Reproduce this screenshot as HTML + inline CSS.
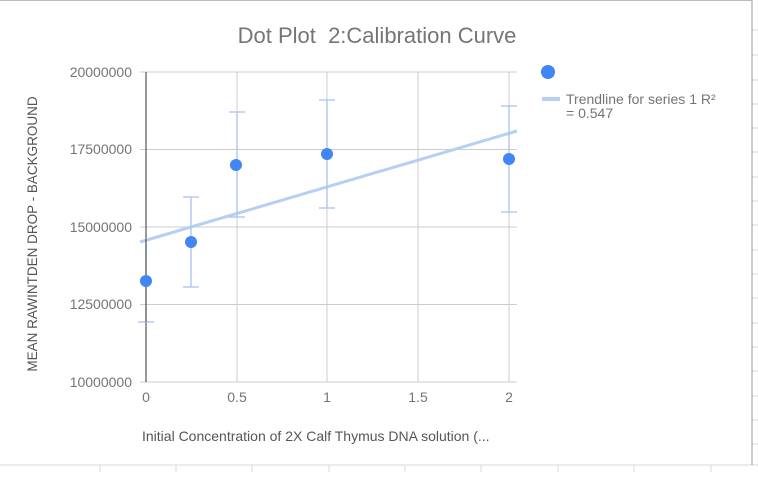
<!DOCTYPE html><html><head><style>body{margin:0;width:758px;height:472px;overflow:hidden;background:#fff;font-family:"Liberation Sans",sans-serif}</style></head><body>
<svg width="758" height="472" xmlns="http://www.w3.org/2000/svg" font-family="Liberation Sans, sans-serif">
<rect width="758" height="472" fill="#fff"/>
<g stroke="#d8d8d8" stroke-width="1">
<line x1="0" y1="465" x2="758" y2="465"/>
<line x1="100" y1="465" x2="100" y2="472"/><line x1="176" y1="465" x2="176" y2="472"/><line x1="252" y1="465" x2="252" y2="472"/><line x1="329" y1="465" x2="329" y2="472"/><line x1="405" y1="465" x2="405" y2="472"/><line x1="481" y1="465" x2="481" y2="472"/><line x1="558" y1="465" x2="558" y2="472"/><line x1="634" y1="465" x2="634" y2="472"/><line x1="711" y1="465" x2="711" y2="472"/>
<line x1="752" y1="30" x2="758" y2="30"/><line x1="752" y1="55" x2="758" y2="55"/><line x1="752" y1="80" x2="758" y2="80"/><line x1="752" y1="104" x2="758" y2="104"/><line x1="752" y1="128" x2="758" y2="128"/><line x1="752" y1="152" x2="758" y2="152"/><line x1="752" y1="177" x2="758" y2="177"/><line x1="752" y1="201" x2="758" y2="201"/><line x1="752" y1="225" x2="758" y2="225"/><line x1="752" y1="250" x2="758" y2="250"/><line x1="752" y1="274" x2="758" y2="274"/><line x1="752" y1="298" x2="758" y2="298"/><line x1="752" y1="323" x2="758" y2="323"/><line x1="752" y1="347" x2="758" y2="347"/><line x1="752" y1="371" x2="758" y2="371"/><line x1="752" y1="396" x2="758" y2="396"/><line x1="752" y1="420" x2="758" y2="420"/><line x1="752" y1="444" x2="758" y2="444"/>
</g>
<line x1="752" y1="0" x2="752" y2="465" stroke="#999"/>
<line x1="0" y1="0.5" x2="752" y2="0.5" stroke="#bbb"/>
<g stroke="#ccc">
<line x1="140" y1="72" x2="517" y2="72"/><line x1="140" y1="149.5" x2="517" y2="149.5"/><line x1="140" y1="227" x2="517" y2="227"/><line x1="140" y1="304.5" x2="517" y2="304.5"/><line x1="140" y1="382" x2="517" y2="382"/>
<line x1="237" y1="72" x2="237" y2="382"/><line x1="327" y1="72" x2="327" y2="382"/><line x1="418" y1="72" x2="418" y2="382"/><line x1="509" y1="72" x2="509" y2="382"/>
</g>
<line x1="146" y1="72" x2="146" y2="382" stroke="#333"/>
<line x1="140" y1="242" x2="517" y2="131" stroke="#b6cff5" stroke-width="3"/>
<g stroke="#a8c4f0" stroke-width="1.3">
<line x1="146" y1="239" x2="146" y2="322"/><line x1="138" y1="322" x2="154" y2="322"/>
<line x1="191" y1="197" x2="191" y2="287"/><line x1="183" y1="197" x2="199" y2="197"/><line x1="183" y1="287" x2="199" y2="287"/>
<line x1="237" y1="112" x2="237" y2="217"/><line x1="229" y1="112" x2="245" y2="112"/><line x1="229" y1="217" x2="245" y2="217"/>
<line x1="327" y1="100" x2="327" y2="208"/><line x1="319" y1="100" x2="335" y2="100"/><line x1="319" y1="208" x2="335" y2="208"/>
<line x1="509" y1="106" x2="509" y2="212"/><line x1="501" y1="106" x2="517" y2="106"/><line x1="501" y1="212" x2="517" y2="212"/>
</g>
<line x1="146" y1="239" x2="146" y2="322" stroke="#333"/>
<g fill="#4285f4">
<circle cx="146" cy="281" r="6"/><circle cx="191" cy="242" r="6"/><circle cx="236" cy="165" r="6"/><circle cx="327" cy="154" r="6"/><circle cx="509" cy="159" r="6"/>
<circle cx="548" cy="72" r="7"/>
</g>
<line x1="542" y1="99" x2="560" y2="99" stroke="#b6cff5" stroke-width="4"/>
<g fill="#757575" font-size="14">
<text x="566" y="104">Trendline for series 1 R²</text>
<text x="566" y="118">= 0.547</text>
</g>
<text x="377" y="43" text-anchor="middle" font-size="22" fill="#757575">Dot Plot &#160;2:Calibration Curve</text>
<g fill="#757575" font-size="14" text-anchor="end">
<text x="132" y="77">20000000</text><text x="132" y="154">17500000</text><text x="132" y="232">15000000</text><text x="132" y="309">12500000</text><text x="132" y="387">10000000</text>
</g>
<g fill="#757575" font-size="14" text-anchor="middle">
<text x="146" y="402">0</text><text x="237" y="402">0.5</text><text x="327" y="402">1</text><text x="418" y="402">1.5</text><text x="509" y="402">2</text>
</g>
<text x="142" y="441" font-size="14" fill="#555">Initial Concentration of 2X Calf Thymus DNA solution (...</text>
<text transform="translate(37,234) rotate(-90)" text-anchor="middle" font-size="13.5" fill="#555">MEAN RAWINTDEN DROP - BACKGROUND</text>
</svg></body></html>
